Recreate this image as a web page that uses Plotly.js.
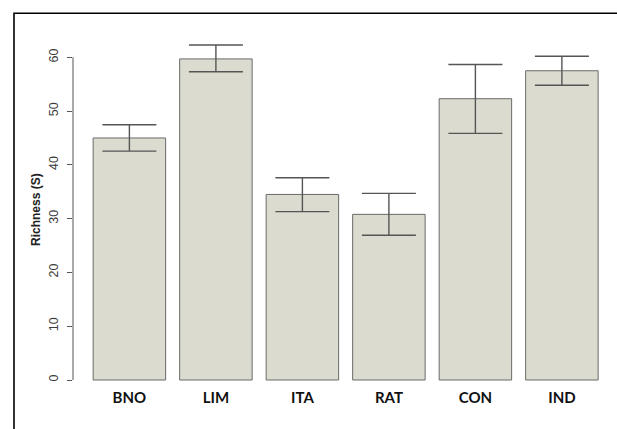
<!DOCTYPE html>
<html>
<head>
<meta charset="utf-8">
<script src="https://cdn.plot.ly/plotly-3.0.1.min.js"></script>
<style>html,body{margin:0;padding:0;background:#fff;}#chart{width:617px;height:429px;}</style>
</head>
<body>
<div id="chart"></div>
<script>
const categories = ["BNO", "LIM", "ITA", "RAT", "CON", "IND"];
const richness = [45.0, 59.7, 34.5, 30.8, 52.3, 57.5];
const errPlus = [2.45, 2.6, 3.1, 3.9, 6.35, 2.7];
const errMinus = [2.45, 2.4, 3.2, 3.9, 6.45, 2.7];
const yTicks = [0, 10, 20, 30, 40, 50, 60];

const W = 617, H = 429;
const M = {l: 73, r: 12, t: 30, b: 44};
const pw = W - M.l - M.r, ph = H - M.t - M.b;
const px2x = p => (p - M.l) / pw;
const py2y = p => (H - M.b - p) / ph;

const trace = {
  type: 'bar',
  x: categories.map((c, i) => i),
  y: richness,
  marker: {color: '#dcdbd0', line: {color: '#6a6a6a', width: 1}},
  error_y: {type: 'data', symmetric: false, array: errPlus, arrayminus: errMinus,
            color: '#555555', thickness: 1.4, width: 27},
  hoverinfo: 'none'
};

const layout = {
  width: W, height: H,
  margin: M,
  paper_bgcolor: '#ffffff', plot_bgcolor: '#ffffff',
  showlegend: false,
  bargap: 0.162,
  xaxis: {
    range: [-0.652, -0.652 + pw / 86.5],
    tickvals: categories.map((c, i) => i),
    ticktext: categories,
    ticks: '', showline: false, showgrid: false, zeroline: false,
    tickfont: {family: 'Lato, "Open Sans", sans-serif', size: 15, color: '#111111', weight: 'bold'},
    ticklabelstandoff: 2
  },
  yaxis: {
    range: [-(5 / 5.378), 60 + (57.3 - 30) / 5.378],
    tickvals: yTicks,
    ticks: 'outside', ticklen: 5, tickwidth: 1, tickcolor: '#555555',
    showline: false, showgrid: false, zeroline: false,
    tickangle: -90,
    tickfont: {family: '"Liberation Sans", Arial, sans-serif', size: 12.5, color: '#3a3a3a'},
    ticklabelstandoff: 4
  },
  shapes: [
    {type: 'line', xref: 'paper', yref: 'y', x0: 0, x1: 0, y0: yTicks[0], y1: yTicks[yTicks.length - 1],
     line: {color: '#555555', width: 1}},
    {type: 'rect', xref: 'paper', yref: 'paper', x0: px2x(14), x1: px2x(640), y0: py2y(450), y1: py2y(13.2),
     line: {color: '#000000', width: 1.6}, fillcolor: 'rgba(0,0,0,0)'}
  ],
  annotations: [
    {text: '<b>Richness (S)</b>', xref: 'paper', yref: 'paper', x: px2x(36), y: py2y(210),
     xanchor: 'center', yanchor: 'middle', showarrow: false, textangle: -90,
     font: {family: '"Liberation Sans", Arial, sans-serif', size: 12, color: '#222222'}}
  ]
};

Plotly.newPlot('chart', [trace], layout, {staticPlot: true, displayModeBar: false});
</script>
</body>
</html>
